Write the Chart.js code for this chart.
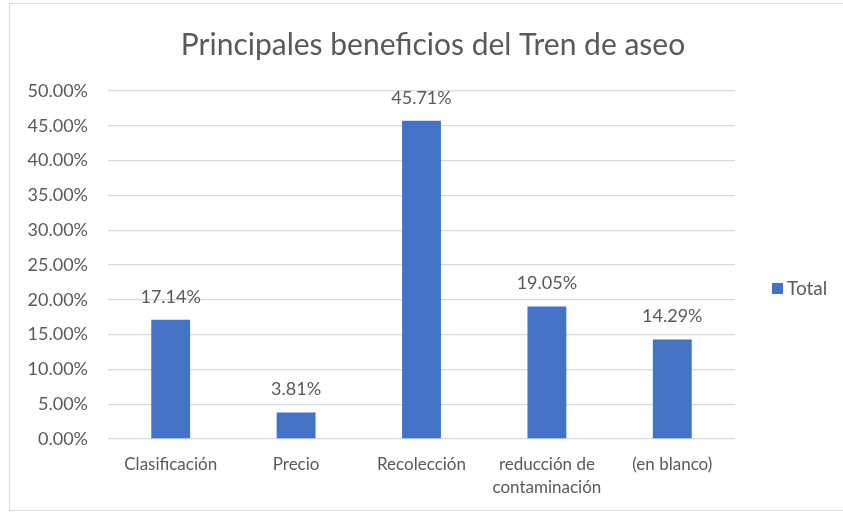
<!DOCTYPE html>
<html>
<head>
<meta charset="utf-8">
<script src="https://cdn.jsdelivr.net/npm/chart.js@4"></script>
<style>
  body { margin: 0; background: #fff; }
  #wrap { position: relative; width: 843px; height: 512px; overflow: hidden; }
  #frame { position: absolute; left: 9px; top: 3px; width: 850px; height: 506px; border: 1px solid #d9d9d9; }
  canvas { position: absolute; left: 0; top: 0; }
</style>
</head>
<body>
<div id="wrap">
  <div id="frame"></div>
  <canvas id="myChart" width="843" height="512"></canvas>
</div>
<script>
let categories = ["Clasificación", "Precio", "Recolección", ["reducción de", "contaminación"], "(en blanco)"];
let totals = [0.1714, 0.0381, 0.4571, 0.1905, 0.1429];
let seriesName = "Total";
let chartTitle = "Principales beneficios del Tren de aseo";

const textColor = "#595959";
const barColor = "#4472c4";
const fontName = "Lato, 'Open Sans', sans-serif";

const pct = (v) => (v * 100).toFixed(2) + "%";

// title centred on the whole frame, not the plot
const frameTitle = {
  id: "frameTitle",
  afterDraw(chart) {
    const ctx = chart.ctx;
    ctx.save();
    ctx.font = "30px " + fontName;
    ctx.fillStyle = textColor;
    ctx.textAlign = "center";
    ctx.textBaseline = "middle";
    ctx.fillText(chartTitle, 433, 45);
    ctx.restore();
  }
};

// value labels over each bar
const valueLabels = {
  id: "valueLabels",
  afterDatasetsDraw(chart) {
    const ctx = chart.ctx;
    const meta = chart.getDatasetMeta(0);
    ctx.save();
    ctx.font = "18px " + fontName;
    ctx.fillStyle = textColor;
    ctx.textAlign = "center";
    ctx.textBaseline = "middle";
    meta.data.forEach((bar, i) => {
      ctx.fillText(pct(totals[i]), bar.x, bar.y - 23);
    });
    ctx.restore();
  }
};

// legend on the right like the excel one
const sideLegend = {
  id: "sideLegend",
  afterDraw(chart) {
    const ctx = chart.ctx;
    ctx.save();
    ctx.fillStyle = barColor;
    ctx.fillRect(772, 283, 11, 11);
    ctx.font = "19px " + fontName;
    ctx.fillStyle = textColor;
    ctx.textAlign = "left";
    ctx.textBaseline = "middle";
    ctx.fillText(seriesName, 787, 289);
    ctx.restore();
  }
};

const ctx = document.getElementById("myChart");

new Chart(ctx, {
  type: "bar",
  data: {
    labels: categories,
    datasets: [
      {
        label: seriesName,
        data: totals,
        backgroundColor: barColor,
        categoryPercentage: 1,
        barPercentage: 0.31
      }
    ]
  },
  options: {
    responsive: false,
    animation: false,
    layout: {
      padding: { left: 0, right: 108, top: 91, bottom: 0 }
    },
    plugins: {
      legend: { display: false },
      tooltip: { enabled: false },
      title: { display: false }
    },
    scales: {
      x: {
        grid: { display: false },
        border: { display: false },
        ticks: {
          color: textColor,
          font: { family: fontName, size: 17, lineHeight: 1.35 },
          padding: 6,
          maxRotation: 0,
          autoSkip: false
        },
        afterFit: (axis) => { axis.height = 512 - 439; }
      },
      y: {
        min: 0,
        max: 0.5,
        border: { display: false },
        grid: { color: "#d9d9d9", lineWidth: 1.3, drawTicks: false },
        ticks: {
          stepSize: 0.05,
          color: textColor,
          font: { family: fontName, size: 18 },
          padding: 20,
          callback: (v) => pct(v)
        },
        afterFit: (axis) => { axis.width = 108; }
      }
    }
  },
  plugins: [frameTitle, valueLabels, sideLegend]
});
</script>
</body>
</html>
